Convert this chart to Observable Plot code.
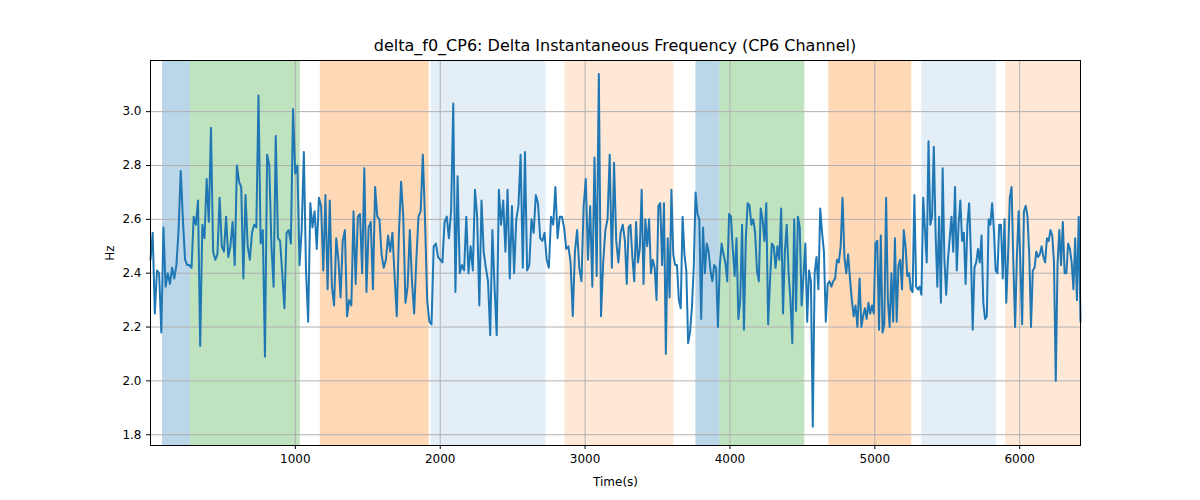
<!DOCTYPE html>
<html><head><meta charset="utf-8">
<script src="https://cdn.jsdelivr.net/npm/d3@7"></script>
<script src="https://cdn.jsdelivr.net/npm/@observablehq/plot@0.6"></script>
<style>body{margin:0;background:#fff;font-family:"DejaVu Sans",sans-serif}
#title{height:60px;width:1200px;box-sizing:border-box;padding-left:30px;text-align:center;font-size:16px;line-height:20px;padding-top:36px}</style>
</head><body>
<div id="title">delta_f0_CP6: Delta Instantaneous Frequency (CP6 Channel)</div>
<div id="chart"></div>
<script>
const seg1Range=[0,1640];
const seg1=[2.45,2.55,2.25,2.41,2.40,2.18,2.57,2.35,2.40,2.36,2.42,2.38,2.43,2.56,2.78,2.60,2.45,2.43,2.43,2.42,2.61,2.58,2.67,2.13,2.58,2.53,2.75,2.59,2.94,2.48,2.45,2.47,2.68,2.50,2.48,2.61,2.46,2.50,2.59,2.43,2.80,2.74,2.72,2.38,2.69,2.50,2.45,2.55,2.58,2.57,3.06,2.51,2.56,2.09,2.84,2.80,2.50,2.35,2.91,2.53,2.52,2.40,2.27,2.55,2.56,2.51,3.01,2.77,2.80,2.43,2.56,2.85,2.41,2.22,2.66,2.57,2.63,2.49,2.68,2.65,2.41,2.69,2.34,2.67,2.35,2.28,2.53,2.45,2.31,2.52,2.56,2.24,2.30,2.28,2.63,2.36,2.61,2.62,2.40,2.79,2.33,2.57,2.59,2.34,2.72,2.61,2.60,2.47,2.42,2.45,2.54];
const seg2Range=[1655,3260];
const seg2=[2.48,2.55,2.39,2.24,2.55,2.74,2.61,2.29,2.35,2.56,2.37,2.25,2.45,2.61,2.63,2.84,2.60,2.30,2.22,2.21,2.50,2.51,2.46,2.45,2.44,2.59,2.61,2.53,2.63,3.03,2.33,2.76,2.40,2.43,2.41,2.61,2.40,2.50,2.41,2.71,2.61,2.28,2.67,2.48,2.42,2.37,2.17,2.56,2.35,2.17,2.71,2.58,2.67,2.48,2.71,2.38,2.65,2.40,2.60,2.65,2.84,2.42,2.85,2.41,2.43,2.60,2.55,2.69,2.66,2.53,2.52,2.55,2.45,2.42,2.61,2.58,2.72,2.53,2.61,2.61,2.57,2.49,2.50,2.44,2.24,2.48,2.56,2.42,2.37,2.65,2.75,2.45,2.65,2.35,2.83,2.39,3.14,2.24,2.44,2.56,2.60,2.84,2.42,2.81,2.52,2.44,2.55,2.58];
const seg3Range=[3275,4880];
const seg3=[2.52,2.36,2.57,2.58,2.46,2.37,2.59,2.44,2.49,2.71,2.36,2.60,2.50,2.60,2.40,2.45,2.42,2.30,2.65,2.66,2.43,2.66,2.10,2.53,2.31,2.71,2.47,2.43,2.43,2.30,2.27,2.61,2.47,2.41,2.14,2.18,2.27,2.42,2.70,2.62,2.60,2.23,2.57,2.40,2.51,2.48,2.41,2.37,2.43,2.42,2.20,2.43,2.51,2.47,2.44,2.37,2.62,2.61,2.49,2.39,2.53,2.23,2.30,2.58,2.19,2.53,2.66,2.65,2.58,2.60,2.55,2.41,2.37,2.64,2.60,2.52,2.66,2.21,2.37,2.51,2.50,2.42,2.50,2.45,2.64,2.25,2.48,2.58,2.40,2.30,2.14,2.60,2.26,2.61,2.57,2.28,2.39,2.51,2.22,2.41,2.37,1.83,2.40,2.46,2.34,2.64,2.55,2.48,2.22,2.36,2.37,2.35,2.37,2.38,2.45,2.44,2.50,2.68,2.46,2.40,2.47,2.38,2.30,2.24,2.28,2.20];
const seg4Range=[4895,6420];
const seg4=[2.38,2.20,2.24,2.27,2.23,2.29,2.25,2.28,2.25,2.51,2.52,2.19,2.54,2.18,2.21,2.68,2.30,2.20,2.40,2.22,2.53,2.22,2.43,2.45,2.34,2.56,2.50,2.39,2.40,2.34,2.33,2.69,2.35,2.34,2.35,2.32,2.68,2.56,2.44,2.89,2.58,2.61,2.87,2.55,2.35,2.61,2.29,2.79,2.45,2.32,2.45,2.53,2.61,2.48,2.72,2.41,2.58,2.67,2.52,2.55,2.36,2.58,2.66,2.47,2.19,2.42,2.44,2.49,2.44,2.54,2.29,2.23,2.24,2.60,2.58,2.66,2.56,2.41,2.40,2.58,2.58,2.38,2.60,2.29,2.46,2.68,2.72,2.44,2.20,2.46,2.63,2.43,2.21,2.63,2.65,2.61,2.47,2.20,2.41,2.42,2.48,2.46,2.47,2.50,2.46,2.44,2.53,2.52,2.56,2.54,2.44,2.00,2.43,2.56,2.43,2.59,2.40,2.40,2.51,2.49,2.44,2.34,2.53,2.30,2.61,2.22];
const spanStart=[83,276,1172,1938,2862,3765,3931,4683,5324,5903];
const spanEnd=[276,1034,1924,2731,3614,3931,4517,5255,5841,6420];
const spanColor=["#1f77b4","#2ca02c","#ff7f0e","#1f77b4","#ff7f0e","#1f77b4","#2ca02c","#ff7f0e","#1f77b4","#ff7f0e"];
const spanOpacity=[0.3,0.3,0.3,0.12,0.17,0.3,0.3,0.3,0.12,0.17];
const xTicks=[1000,2000,3000,4000,5000,6000];
const yTicks=[1.8,2.0,2.2,2.4,2.6,2.8,3.0];

const series=[];
[[seg1,seg1Range],[seg2,seg2Range],[seg3,seg3Range],[seg4,seg4Range]].forEach(([v,r])=>{
  v.forEach((y,i)=>series.push({t:r[0]+(r[1]-r[0])*i/(v.length-1),y}));
});
const spans=spanStart.map((s,i)=>({s,e:spanEnd[i],c:spanColor[i],o:spanOpacity[i]}));

const chart=Plot.plot({
  width:1200,height:440,marginTop:0,marginBottom:55,marginLeft:150,marginRight:120,
  style:{fontFamily:"DejaVu Sans",fontSize:"12px",color:"#000"},
  x:{domain:[0,6420]},
  y:{domain:[1.76,3.19]},
  marks:[
    Plot.rectX(spans,{x1:"s",x2:"e",y1:1.76,y2:3.19,fill:"c",fillOpacity:"o"}),
    Plot.gridX(xTicks,{stroke:"#b0b0b0",strokeOpacity:1,strokeWidth:1}),
    Plot.gridY(yTicks,{stroke:"#b0b0b0",strokeOpacity:1,strokeWidth:1}),
    Plot.line(series,{x:"t",y:"y",stroke:"#1f77b4",strokeWidth:2}),
    Plot.frame({stroke:"#000"}),
    Plot.axisX({ticks:xTicks,tickFormat:d=>String(d),tickSize:4,label:"Time(s)",labelAnchor:"center",labelArrow:"none",labelOffset:40}),
    Plot.axisY({ticks:yTicks,tickFormat:".1f",tickSize:4,label:"Hz",labelAnchor:"center",labelArrow:"none",labelOffset:45})
  ]
});
document.getElementById("chart").append(chart);
</script>
</body></html>
